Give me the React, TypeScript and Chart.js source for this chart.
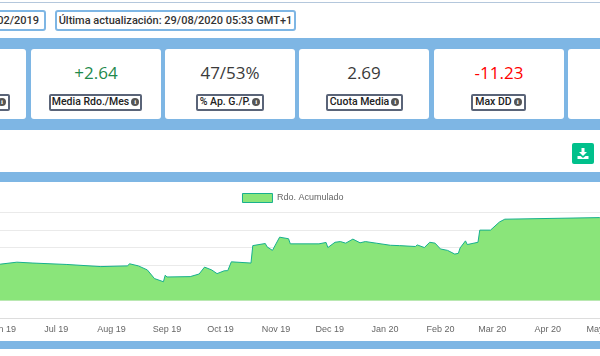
import React, { useEffect, useRef } from "react";
import { Chart, registerables } from "chart.js";

Chart.register(...registerables);

const monthLabels = ["Jun 19", "Jul 19", "Aug 19", "Sep 19", "Oct 19", "Nov 19", "Dec 19", "Jan 20", "Feb 20", "Mar 20", "Apr 20", "May 20"];
const monthStartDays = [-30, 0, 31, 62, 92, 123, 153, 184, 215, 244, 275, 305];
const dayOffsets = [-65, -31, -22, -13, 6, 25, 40, 41, 46, 51, 55, 60, 61, 62, 75, 80, 83, 87, 90, 94, 96, 98, 109, 110, 117, 118, 121, 125, 130, 131, 147, 151, 152, 156, 159, 162, 166, 170, 173, 179, 187, 192, 201, 202, 206, 209, 212, 215, 219, 223, 225, 226, 229, 230, 236, 237, 243, 248, 251, 304, 330];
const cumulative = [19.5, 20.7, 21.8, 21.3, 20.5, 19.3, 19.7, 20.9, 19.7, 17.4, 12.5, 10.7, 14.4, 13.4, 13.6, 15.1, 19, 17.4, 15.3, 16.9, 17, 22, 21.3, 31.2, 32.4, 30.5, 28.5, 36, 35.1, 32.2, 32.2, 33, 30.1, 33.1, 33.5, 32.6, 34.9, 32.8, 33.5, 32.6, 31.4, 31.2, 30.7, 31.6, 30.1, 33.1, 32.6, 29.3, 28.5, 26.4, 26.8, 29.9, 33.9, 31.8, 33.1, 40, 40, 44.6, 46.2, 47.1, 47.5];
const seriesName = "Rdo. Acumulado";

const BLUE = "#7EB6E4";
const FONT = "Roboto, 'Liberation Sans', sans-serif";
const CHART_FONT = "'Liberation Sans', Arial, sans-serif";

const abs = (left: number, top: number, width: number, height: number): React.CSSProperties => ({
  position: "absolute", left, top, width, height, boxSizing: "border-box",
});

const Info = () => (
  <span style={{ display: "inline-block", width: 8, height: 8, borderRadius: 4, background: "#555", color: "#fff", fontSize: 7, lineHeight: "8px", textAlign: "center", marginLeft: 2, fontWeight: 700, fontFamily: "'Liberation Serif', serif", verticalAlign: "middle" }}>i</span>
);

const cards = [
  { left: -104, width: 130, value: "", color: "#333", label: "", labelLeft: -60, labelWidth: 70 },
  { left: 31, width: 130, value: "+2.64", color: "#1F8A4C", label: "Media Rdo./Mes", labelLeft: 49, labelWidth: 93 },
  { left: 165, width: 130, value: "47/53%", color: "#3A3A3A", label: "% Ap. G./P.", labelLeft: 196, labelWidth: 68 },
  { left: 299, width: 130, value: "2.69", color: "#3A3A3A", label: "Cuota Media", labelLeft: 326, labelWidth: 77 },
  { left: 434, width: 130, value: "-11.23", color: "#FF0000", label: "Max DD", labelLeft: 471, labelWidth: 55 },
  { left: 568, width: 130, value: "", color: "#333", label: "", labelLeft: 0, labelWidth: 0 },
];

export default function App() {
  const ref = useRef<HTMLCanvasElement>(null);
  useEffect(() => {
    document.body.style.margin = "0";
    const chart = new Chart(ref.current!, {
      type: "line",
      data: {
        datasets: [{
          label: seriesName,
          data: dayOffsets.map((d, i) => ({ x: d, y: cumulative[i] })),
          borderColor: "#17B08E",
          backgroundColor: "#8AE57A",
          borderWidth: 1,
          pointRadius: 0,
          tension: 0,
          fill: "origin",
        }],
      },
      options: {
        animation: false,
        responsive: false,
        layout: { padding: { top: 7.5, bottom: 0 } },
        plugins: {
          tooltip: { enabled: false },
          legend: {
            display: true,
            labels: { boxWidth: 30, boxHeight: 9, padding: 4, color: "#666", font: { size: 9, family: CHART_FONT } },
          },
        },
        scales: {
          x: {
            type: "linear",
            min: -65,
            max: 330,
            grid: { display: false, drawTicks: false, tickLength: 0 },
            border: { display: false },
            afterBuildTicks: (axis: any) => { axis.ticks = monthStartDays.map((value) => ({ value })); },
            ticks: {
              autoSkip: false,
              maxRotation: 0,
              padding: 6,
              color: "#666",
              font: { size: 9, family: CHART_FONT },
              callback: (v: any) => monthLabels[monthStartDays.indexOf(Number(v))] ?? "",
            },
          },
          y: {
            min: -10,
            max: 50,
            afterFit: (axis: any) => { axis.width = 0; },
            ticks: { display: false, stepSize: 10 },
            border: { display: false },
            grid: { color: (c: any) => (c.tick.value === -10 ? "#DDDDDD" : "#EAEAEA"), drawTicks: false, lineWidth: 1 },
          },
        },
      },
    });
    return () => chart.destroy();
  }, []);

  return (
    <div style={{ position: "relative", width: 600, height: 349, overflow: "hidden", background: "#fff", fontFamily: FONT }}>
      <div style={{ ...abs(0, 2, 600, 1), background: "#B4C7DC" }} />
      <div style={{ ...abs(-60, 10, 106, 21), border: `2px solid ${BLUE}`, borderRadius: 3, fontSize: 11, fontWeight: 500, lineHeight: "17px", color: "#333", textAlign: "right", paddingRight: 5 }}>02/02/2019</div>
      <div style={{ ...abs(55, 10, 241, 21), border: `2px solid ${BLUE}`, borderRadius: 3, fontSize: 11, fontWeight: 500, lineHeight: "17px", color: "#333", textAlign: "center", whiteSpace: "nowrap" }}>Última actualización: 29/08/2020 05:33 GMT+1</div>

      <div style={{ ...abs(0, 38, 600, 92), background: BLUE }} />
      {cards.map((c, i) => (
        <div key={i} style={{ ...abs(c.left, 49, c.width, 70), background: "#fff", borderRadius: 3 }}>
          <div style={{ ...abs(0, 12, c.width, 24), textAlign: "center", fontSize: 17, lineHeight: "24px", color: c.color, fontFamily: "'Open Sans', sans-serif", fontWeight: 400 }}>{c.value}</div>
        </div>
      ))}
      {cards.filter((c) => c.labelWidth > 0).map((c, i) => (
        <div key={i} style={{ ...abs(c.labelLeft, 94, c.labelWidth, 17), border: "2px solid #5A6478", borderRadius: 2, background: "#fff", fontSize: 10.5, fontWeight: 500, lineHeight: "12px", color: "#222", textAlign: c.label ? "center" : "right", paddingRight: c.label ? 0 : 2, whiteSpace: "nowrap" }}>
          {c.label}<Info />
        </div>
      ))}

      <div style={{ ...abs(572, 143, 22, 21), background: "#00C08B", borderRadius: 2 }}>
        <svg width="22" height="21" viewBox="0 0 22 21" style={{ display: "block" }}>
          <path d="M9.5 5h3v4h2.5l-4 4-4-4h2.5z M5.5 13h3l2.5 2 2.5-2h3v3h-11z" fill="#fff" />
        </svg>
      </div>

      <div style={{ ...abs(0, 172, 600, 10), background: BLUE }} />
      <canvas ref={ref} width={706} height={159} style={{ position: "absolute", left: -60, top: 182, width: 706, height: 159, display: "block" }} />
      <div style={{ ...abs(0, 341, 600, 8), background: BLUE }} />
    </div>
  );
}
